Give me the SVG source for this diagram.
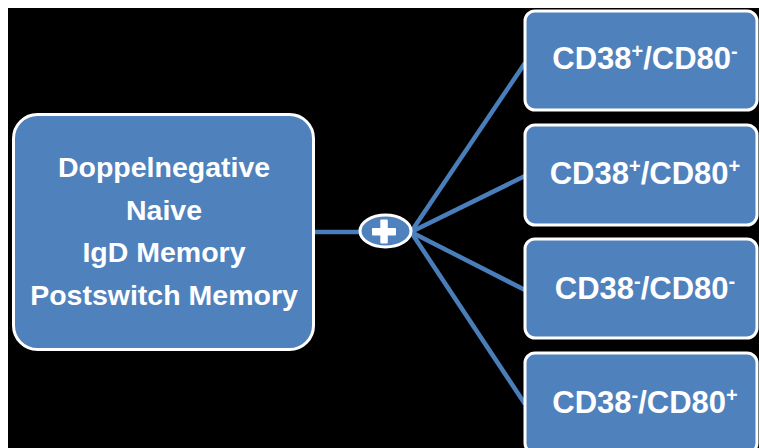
<svg xmlns="http://www.w3.org/2000/svg" width="759" height="448" viewBox="0 0 759 448">
  <style>
    .box { fill: #4F81BD; stroke: #FFFFFF; stroke-width: 3; }
    .link { stroke: #4A7EBB; stroke-width: 4.5; fill: none; }
    .lbl { font-family: "Liberation Sans", Arial, sans-serif; fill: #FFFFFF; text-anchor: middle; font-weight: bold; }
    .main { font-size: 28.5px; }
    .sub { font-size: 31px; }
    .sup { font-size: 20px; }
  </style>
  <rect x="0" y="0" width="759" height="448" fill="#FFFFFF"/>
  <rect x="8" y="8" width="751" height="440" fill="#000000"/>

  <g id="connectors">
    <line class="link" x1="315" y1="232" x2="360" y2="232"/>
    <line class="link" x1="411" y1="232" x2="525" y2="63"/>
    <line class="link" x1="411" y1="232" x2="525" y2="176"/>
    <line class="link" x1="411" y1="232" x2="525" y2="290"/>
    <line class="link" x1="411" y1="232" x2="525" y2="404"/>
  </g>

  <g id="source">
    <rect class="box" x="13.5" y="114.5" width="300" height="235" rx="24"/>
    <text class="lbl main" x="164" y="177">Doppelnegative</text>
    <text class="lbl main" x="164" y="220">Naive</text>
    <text class="lbl main" x="164" y="262">IgD Memory</text>
    <text class="lbl main" x="164" y="305">Postswitch Memory</text>
  </g>

  <g id="split">
    <ellipse cx="385.5" cy="231" rx="25.5" ry="16" fill="#4F81BD" stroke="#FFFFFF" stroke-width="3"/>
    <rect x="372" y="228" width="24" height="7.5" rx="1" fill="#FFFFFF"/>
    <rect x="380.3" y="219.5" width="7.5" height="24" rx="1" fill="#FFFFFF"/>
  </g>

  <g id="cd38p-cd80n">
    <rect class="box" x="525" y="11" width="232" height="99" rx="10"/>
    <text class="lbl sub" x="645" y="69">CD38<tspan class="sup" dy="-11">+</tspan><tspan dy="11">/CD80</tspan><tspan class="sup" dy="-11">-</tspan></text>
  </g>

  <g id="cd38p-cd80p">
    <rect class="box" x="525" y="125" width="232" height="100" rx="10"/>
    <text class="lbl sub" x="645" y="184">CD38<tspan class="sup" dy="-11">+</tspan><tspan dy="11">/CD80</tspan><tspan class="sup" dy="-11">+</tspan></text>
  </g>

  <g id="cd38n-cd80n">
    <rect class="box" x="525" y="239" width="232" height="99" rx="10"/>
    <text class="lbl sub" x="645" y="299">CD38<tspan class="sup" dy="-11">-</tspan><tspan dy="11">/CD80</tspan><tspan class="sup" dy="-11">-</tspan></text>
  </g>

  <g id="cd38n-cd80p">
    <rect class="box" x="525" y="353" width="232" height="100" rx="10"/>
    <text class="lbl sub" x="645" y="413">CD38<tspan class="sup" dy="-11">-</tspan><tspan dy="11">/CD80</tspan><tspan class="sup" dy="-11">+</tspan></text>
  </g>
</svg>
